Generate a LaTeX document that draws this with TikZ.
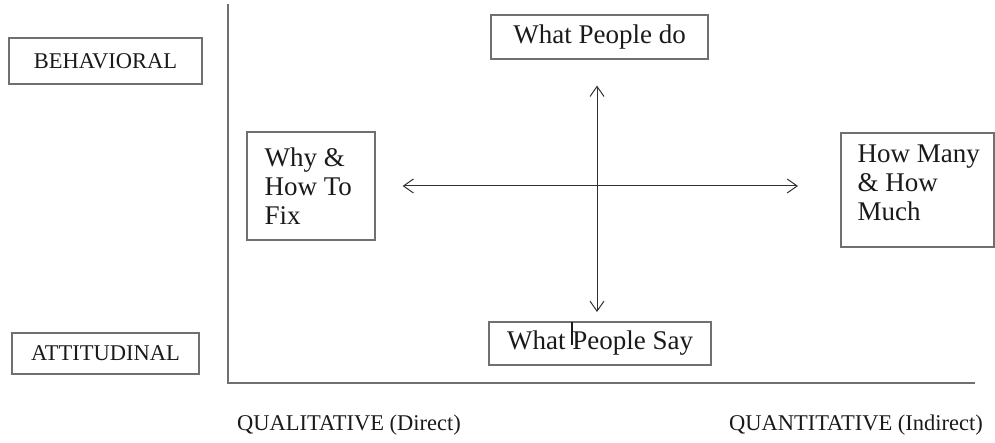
\documentclass[tikz,border=0pt]{standalone}
\usepackage{fontspec}
\setmainfont{Liberation Serif}
\usetikzlibrary{arrows.meta,positioning,calc}
\definecolor{boxgray}{HTML}{707070}
\definecolor{inkgray}{HTML}{1A1A1A}

\begin{document}
\begin{tikzpicture}[x=1pt,y=-1pt]
\tikzstyle{main}=[rectangle, draw=boxgray, line width=1.2pt, text=inkgray, font=\fontsize{27}{29}\selectfont, inner sep=0pt]
\tikzstyle{side}=[main, font=\fontsize{22.5}{26}\selectfont]
\tikzstyle{label}=[text=inkgray, font=\fontsize{22.5}{26}\selectfont, inner sep=0pt]
\tikzstyle{multi}=[text=inkgray, font=\fontsize{27}{29}\selectfont, inner sep=0pt, align=left, anchor=west]
\tikzstyle{axis}=[draw=boxgray, line width=1.2pt]
\tikzstyle{connect}=[{Straight Barb[length=10pt,width=14pt]}-{Straight Barb[length=10pt,width=14pt]}, line width=1pt, draw=inkgray!90]

  \useasboundingbox (0,0) rectangle (995,443);

  % axes
  \coordinate (origin) at (228,383);
  \coordinate (ytop)   at (228,4);
  \coordinate (xend)   at (975,383);
  \draw[axis] (ytop) -- (origin) -- (xend);

  % row and column labels
  \node[side, minimum width=193pt, minimum height=46pt] (behav) at (105.5,61)  {BEHAVIORAL};
  \node[side, minimum width=187pt, minimum height=41pt] (attit) at (105.5,353.5) {ATTITUDINAL};
  \node[label, anchor=west] (qual)  at (237,425) {QUALITATIVE (Direct)};
  \node[label, anchor=east] (quant) at (983,425) {QUANTITATIVE (Indirect)};

  % quadrant boxes
  \node[main, minimum width=217pt, minimum height=44pt] (do)  at (599.5,37)  {What People do};
  \node[main, minimum width=222pt, minimum height=43pt] (say) at (600,343.5) {What People Say};
  \node[main, minimum width=128pt, minimum height=108pt] (why)  at (311,186) {};
  \node[main, minimum width=153pt, minimum height=114pt] (many) at (917.5,190) {};
  \node[multi] (whytext)  at ([xshift=18pt]why.west)  {Why \&\\How To\\Fix};
  \node[multi] (manytext) at ([xshift=17pt,yshift=7pt]many.west) {How Many\\\& How\\Much};

  % cross
  \coordinate (cross) at (597,186);
  \draw[connect] (why.east |- cross) ++(27,0) coordinate (hleft) -- (hleft -| 798,0) coordinate (hright);
  \draw[connect] (cross |- do.south) ++(0,26) coordinate (vtop) -- (vtop |- 0,312) coordinate (vbot);

  % cursor mark
  \coordinate (cursor) at (572,322);
  \draw[inkgray, line width=1.2pt] (cursor) -- ++(0,23);

\end{tikzpicture}
\end{document}
